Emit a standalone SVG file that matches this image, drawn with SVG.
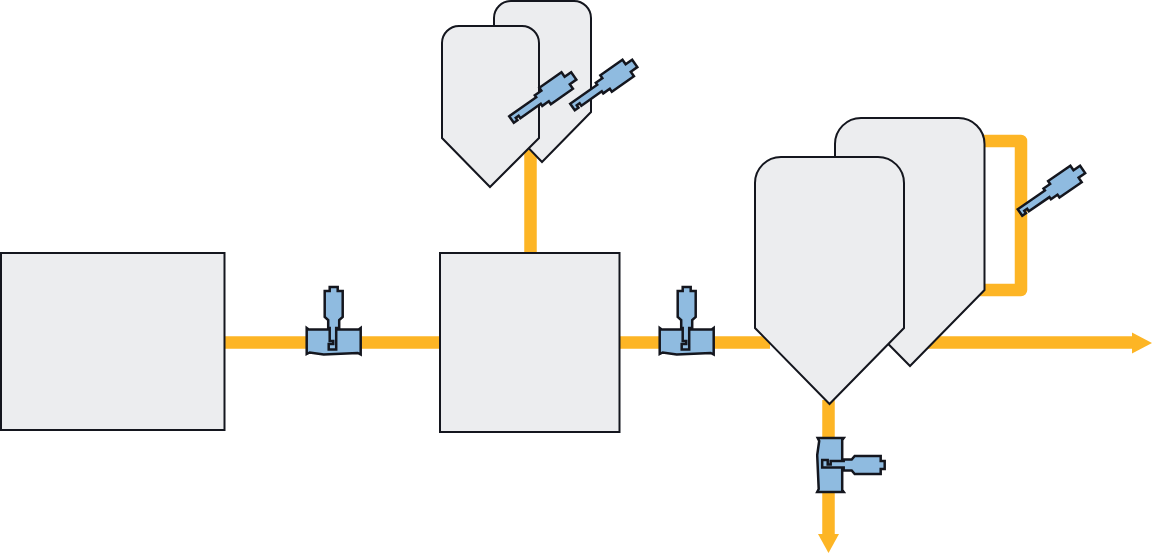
<svg xmlns="http://www.w3.org/2000/svg" width="1152" height="554" viewBox="0 0 1152 554">
<style>
.box{fill:#ecedef;stroke:#14161e;stroke-width:2}
.pipe{fill:none;stroke:#fdb525;stroke-width:12.500;stroke-linejoin:round}
.head{fill:#fdb525}
.inst{fill:#8fbbe0;stroke:#14161e;stroke-width:2.500;stroke-linejoin:miter}
</style>
<defs>
<path id="probeLong" class="inst" d="M4,-8L1,-8L1,-4.500L4,-4.500L4,0L-4,0L-4,-33L-6.500,-33L-6.500,-41L-10,-41L-10,-68L-4.500,-68L-4.500,-76L4.500,-76L4.500,-68L10,-68L10,-41L6.500,-41L6.500,-33L4,-33Z"/>
<g id="tee">
<path class="inst" d="M-27,-21L-25,-19.500L25,-19.500L27,-21L27,5.500L24,4L-10,5.500L-24,3.500L-27,5Z"/>
<path class="inst" d="M2.500,0.500L-5,0.500L-5,-5L-0.500,-5L-0.500,-8L-4,-8L-4,-21L-5.500,-21L-5.500,-29L-9,-32L-9,-58L-4,-58L-4,-62L4,-62L4,-58L9,-58L9,-32L5.500,-29L5.500,-21L2.500,-21Z"/>
</g>
</defs>
<g id="connectors">
<path class="pipe" d="M224,342.500H440"/>
<path class="pipe" d="M619,342.500H770"/>
<path class="pipe" d="M920,342.500H1136"/>
<path class="head" d="M1132,332.500L1152,343L1132,353.500Z"/>
<path class="pipe" d="M530.500,150V253"/>
<path class="pipe" d="M980,141H1021V290H980"/>
<path class="pipe" d="M828.500,400V536"/>
<path class="head" d="M818,534L828.500,553L839,534Z"/>
</g>
<g id="tank-left"><rect class="box" x="1" y="253" width="223.500" height="177"/></g>
<g id="tank-center"><rect class="box" x="440" y="253" width="179.500" height="179"/></g>
<g id="silo-small-back"><path class="box" d="M494,112V18A17,17 0 0 1 511,1H574A17,17 0 0 1 591,18V112L542,162Z"/></g>
<g id="silo-small-front"><path class="box" d="M442,138V43A17,17 0 0 1 459,26H522A17,17 0 0 1 539,43V138L490,187Z"/></g>
<g id="silo-large-back"><path class="box" d="M835,290V144A26,26 0 0 1 861,118H958A26,26 0 0 1 984.500,144V290L910,366Z"/></g>
<g id="silo-large-front"><path class="box" d="M755,328V183A26,26 0 0 1 781,157H878A26,26 0 0 1 904,183V328L829.500,404Z"/></g>
<g id="sensor-1"><use href="#tee" x="333.700" y="349"/></g>
<g id="sensor-2"><use href="#tee" x="686.700" y="349"/></g>
<g id="sensor-3"><use href="#tee" transform="translate(822.700 465) rotate(90)"/></g>
<g id="sensor-4"><use href="#probeLong" transform="translate(511.500 119.500) rotate(55)"/></g>
<g id="sensor-5"><use href="#probeLong" transform="translate(572.500 107) rotate(55)"/></g>
<g id="sensor-6"><use href="#probeLong" transform="translate(1020 212.500) rotate(55.500)"/></g>
</svg>
